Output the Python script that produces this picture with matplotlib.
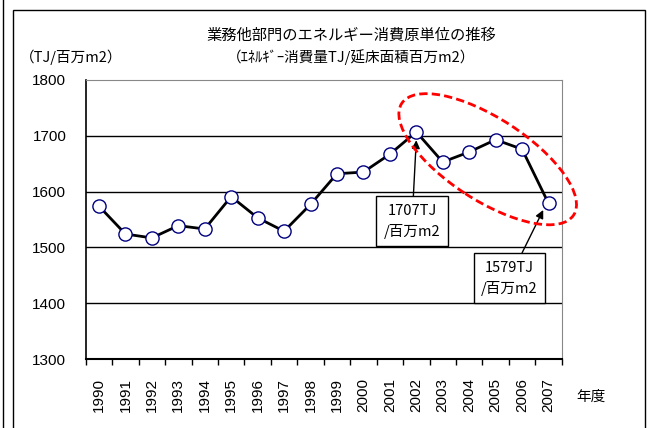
import matplotlib
matplotlib.use("Agg")
import matplotlib.pyplot as plt
from matplotlib.patches import Ellipse, Rectangle
from matplotlib.lines import Line2D
from matplotlib.transforms import IdentityTransform

plt.rcParams['font.family'] = ['Noto Sans CJK JP', 'DejaVu Sans']

# Data
years = ['1990', '1991', '1992', '1993', '1994', '1995', '1996', '1997', '1998',
         '1999', '2000', '2001', '2002', '2003', '2004', '2005', '2006', '2007']
intensity = [1574, 1524, 1517, 1539, 1533, 1591, 1553, 1529, 1577,
             1632, 1635, 1667, 1707, 1653, 1671, 1693, 1676, 1579]
y_ticks = [1300, 1400, 1500, 1600, 1700, 1800]

fig = plt.figure(figsize=(6.47, 4.28), dpi=100)
ax = fig.add_axes([0.1325, 0.1612, 0.7357, 0.6519])

x = list(range(len(years)))
ax.plot(x, intensity, color='black', lw=2, zorder=3,
        marker='o', ms=9.5, mfc='white', mec='#000080', mew=1.0)

ax.set_xlim(-0.5, len(years) - 0.5)
ax.set_ylim(1300, 1800)
ax.set_yticks(y_ticks)
for v in y_ticks[1:-1]:
    ax.axhline(v, color='black', lw=1, zorder=1)

# Category labels centred, tick marks on boundaries
ax.set_xticks(x)
ax.set_xticklabels(years, rotation=90, family='Liberation Sans', fontsize=11)
ax.set_xticks([i - 0.5 for i in range(len(years) + 1)], minor=True)
ax.tick_params(axis='x', which='major', length=0, pad=14)
ax.tick_params(axis='x', which='minor', length=4, width=1, direction='out')
ax.tick_params(axis='y', length=0, pad=14)
for lab in ax.get_yticklabels():
    lab.set_family('Liberation Sans')
    lab.set_fontsize(11)

ax.spines['top'].set_color('#888888')
ax.spines['right'].set_color('#888888')
ax.spines['left'].set_linewidth(1.2)
ax.spines['bottom'].set_linewidth(1.5)

# Annotation boxes
box = dict(boxstyle='square,pad=0.5', fc='white', ec='black', lw=1)
arrow = dict(arrowstyle='-|>', color='black', lw=1, mutation_scale=12,
             shrinkA=0, shrinkB=0)
ax.annotate('1707TJ\n/百万m2', xy=(12, 1692), xytext=(11.84, 1547),
            ha='center', va='center', fontsize=10.5, linespacing=1.5,
            bbox=box, arrowprops=arrow, zorder=5)
ax.annotate('1579TJ\n/百万m2', xy=(16.8, 1567), xytext=(15.53, 1445),
            ha='center', va='center', fontsize=10.5, linespacing=1.5,
            bbox=box, arrowprops=arrow, zorder=5)

# Red dashed ellipse around the recent years
fig.canvas.draw()
cx, cy = ax.transData.transform((14.7, 1658))
ell = Ellipse((cx, cy), 205, 82, angle=-33, transform=IdentityTransform(),
              fill=False, ec='#ff0000', lw=2, ls=(0, (3, 1.5)), zorder=6)
fig.patches.append(ell)

# Titles and axis captions
fig.text(351 / 647, 1 - 35 / 428, '業務他部門のエネルギー消費原単位の推移',
         ha='center', va='center', fontsize=11)
fig.text(351 / 647, 1 - 57 / 428, '（ｴﾈﾙｷﾞｰ消費量TJ/延床面積百万m2）',
         ha='center', va='center', fontsize=10.5)
fig.text(20 / 647, 1 - 57 / 428, '（TJ/百万m2）', ha='left', va='center',
         fontsize=10.5)
fig.text(576 / 647, 1 - 397 / 428, '年度', ha='left', va='center', fontsize=10.5)

# Outer frame
fig.add_artist(Line2D([2.5 / 647, 2.5 / 647], [0, 1], color='black', lw=1,
                      transform=fig.transFigure))
fig.add_artist(Rectangle((12.5 / 647, -0.1), (645 - 12.5) / 647, 1.1 - 10 / 428,
                         fill=False, ec='black', lw=1, transform=fig.transFigure))

fig.savefig('out.png', dpi=100)
